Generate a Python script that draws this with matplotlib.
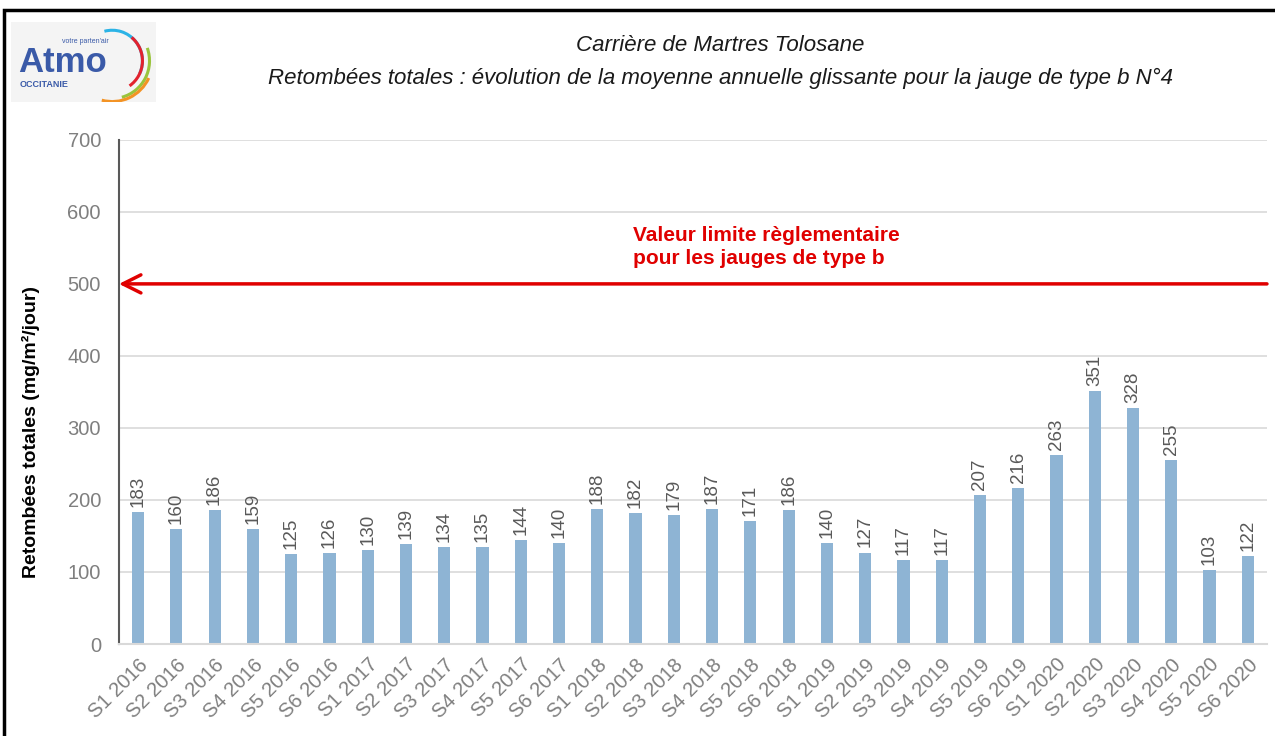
import matplotlib
matplotlib.use('Agg')
import matplotlib.pyplot as plt
from matplotlib.patches import Arc, Rectangle
import numpy as np

# données
semestres = ['S1', 'S2', 'S3', 'S4', 'S5', 'S6']
annees = ['2016', '2017', '2018', '2019', '2020']
labels = [s + ' ' + a for a in annees for s in semestres]
valeurs = [183, 160, 186, 159, 125, 126,
           130, 139, 134, 135, 144, 140,
           188, 182, 179, 187, 171, 186,
           140, 127, 117, 117, 207, 216,
           263, 351, 328, 255, 103, 122]
limite = 500

plt.rcParams['font.family'] = ['Liberation Sans Narrow', 'Liberation Sans', 'DejaVu Sans']

fig = plt.figure(figsize=(12.75, 7.36), dpi=100)
ax = fig.add_axes([0.0933, 0.125, 0.9004, 0.685])

x = np.arange(len(valeurs))
ax.bar(x, valeurs, width=0.32, color='#8eb4d4', zorder=2)
for xi, v in zip(x, valeurs):
    ax.text(xi, v + 7, str(v), rotation=90, ha='center', va='bottom',
            fontsize=13.5, color='#595959')

# valeur limite
ax.annotate('', xy=(-0.5, limite), xytext=(len(valeurs) - 0.5, limite),
            arrowprops=dict(arrowstyle='->,head_length=1.3,head_width=0.65',
                            color='#e00000', lw=2.5, shrinkA=0, shrinkB=0),
            zorder=3)
ax.text(12.92, 551, 'Valeur limite règlementaire\npour les jauges de type b',
        color='#e00000', fontsize=15, fontweight='bold', ha='left', va='center',
        linespacing=1.3)

ax.set_xlim(-0.5, len(valeurs) - 0.5)
ax.set_ylim(0, 700)
ax.set_yticks(range(0, 701, 100))
ax.yaxis.grid(True, color='#d9d9d9', lw=1.2, zorder=0)
ax.set_axisbelow(True)
ax.set_xticks(x)
ax.set_xticklabels(labels, rotation=45, ha='right', rotation_mode='anchor')
ax.tick_params(axis='both', length=0, labelsize=14.5, colors='#7f7f7f')
ax.tick_params(axis='y', pad=13)
ax.tick_params(axis='x', pad=8)
for s in ['top', 'right']:
    ax.spines[s].set_visible(False)
ax.spines['left'].set_color('#595959')
ax.spines['left'].set_linewidth(1.5)
ax.spines['bottom'].set_color('#d9d9d9')
ax.spines['bottom'].set_linewidth(1.5)
ax.set_ylabel('Retombées totales (mg/m²/jour)', fontsize=14, fontweight='bold',
              color='black')
ax.yaxis.set_label_coords(-0.069, 0.42)

# titres
fig.text(0.565, 0.938, 'Carrière de Martres Tolosane', ha='center', va='center',
         fontsize=16, style='italic', family='Liberation Sans', color='#1a1a1a')
fig.text(0.565, 0.894, 'Retombées totales : évolution de la moyenne annuelle glissante '
         'pour la jauge de type b N°4', ha='center', va='center',
         fontsize=16, style='italic', family='Liberation Sans', color='#1a1a1a')

# cadre
fig.add_artist(Rectangle((0.003, -0.01), 1.2, 0.997, transform=fig.transFigure,
                         fill=False, edgecolor='black', lw=2.5))

# logo
lg = fig.add_axes([0.009, 0.862, 0.113, 0.108])
lg.set_xlim(0, 143)
lg.set_ylim(0, 78)
lg.set_facecolor('#f4f4f4')
lg.set_xticks([])
lg.set_yticks([])
for s in lg.spines.values():
    s.set_visible(False)
lg.text(7, 38, 'Atmo', fontsize=25, fontweight='bold', color='#3a5aa8',
        family='Liberation Sans', va='center')
lg.text(50, 59, 'votre parten\'air', fontsize=5, color='#3a5aa8',
        family='Liberation Sans', va='center')
lg.text(8, 17, 'OCCITANIE', fontsize=6.5, fontweight='bold', color='#3a5aa8',
        family='Liberation Sans', va='center')
# arcs (centre, rayon, angles)
arcs = [('#2bb3e6', 30, -25, 105), ('#e2222e', 30, -55, 50),
        ('#9ac43c', 37, -75, 20), ('#f39325', 40, -105, -25)]
for col, r, t1, t2 in arcs:
    lg.add_patch(Arc((100, 40), 2 * r, 2 * r, theta1=t1, theta2=t2,
                     color=col, lw=2.2))

fig.savefig('out.png', dpi=100)
